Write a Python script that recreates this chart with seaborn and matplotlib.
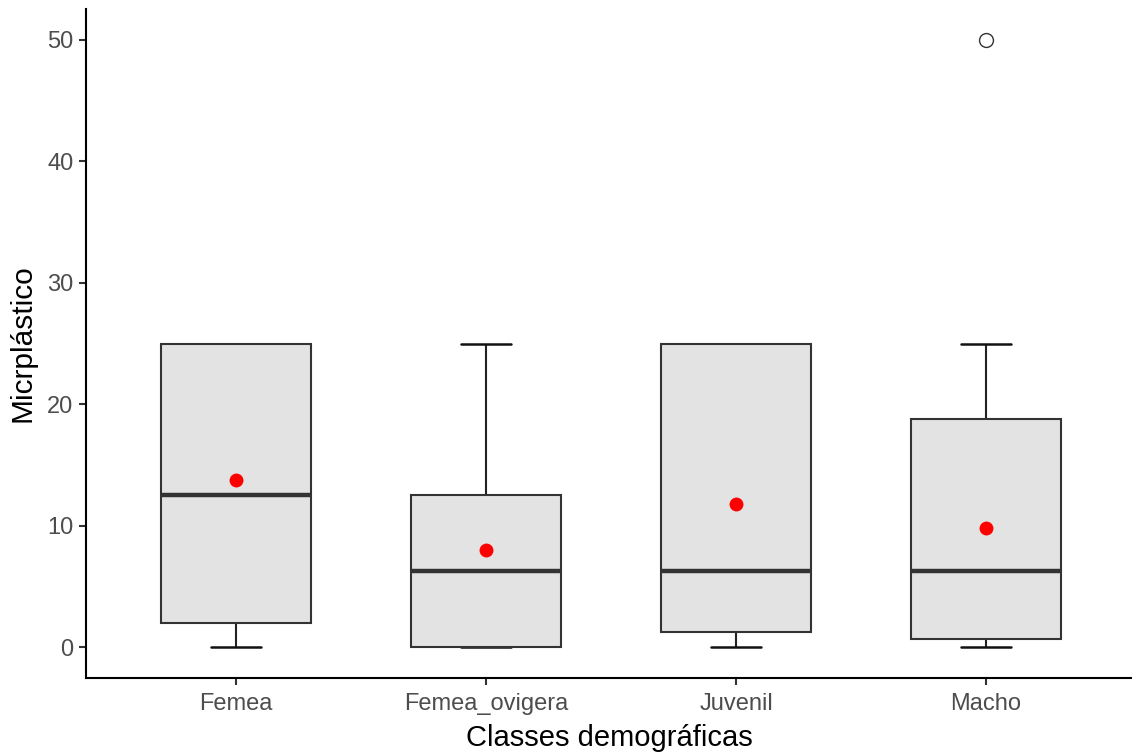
import numpy as np
import pandas as pd
import matplotlib
matplotlib.use("Agg")
import matplotlib.pyplot as plt
import seaborn as sns

# Microplastic counts per demographic class
categories = ["Femea", "Femea_ovigera", "Juvenil", "Macho"]
femea = [0, 0, 2, 12.5, 12.5, 22, 25, 25, 25]
femea_ovigera = [0, 0, 0, 3, 6.25, 10, 12.5, 15.25, 25]
juvenil = [0, 0.5, 1.3, 5, 6.25, 17.8, 25, 25, 25]
macho = [0, 0, 0, 0, 0.66, 1, 2, 3, 6.25, 6.25, 6.25, 8.55,
         18.75, 18.75, 20, 25, 50]
y_ticks = [0, 10, 20, 30, 40, 50]

groups = [femea, femea_ovigera, juvenil, macho]
df = pd.DataFrame({
    "classe": np.repeat(categories, [len(g) for g in groups]),
    "micro": np.concatenate(groups),
})
df["classe"] = pd.Categorical(df["classe"], categories=categories, ordered=True)

sns.set_theme(style="white")
plt.rcParams["font.family"] = ["Liberation Sans", "DejaVu Sans"]

W, H = 1132, 754
fig = plt.figure(figsize=(W / 100, H / 100), dpi=100)
ax = fig.add_axes([86 / W, 1 - 677.7 / H, (W - 86) / W, (677.7 - 9.3) / H])

sns.boxplot(
    data=df, x="classe", y="micro", order=categories, ax=ax,
    color="#E3E3E3", saturation=1, width=0.6, whis=1.5,
    linecolor="#333333", linewidth=1.5,
    medianprops={"linewidth": 3.2, "color": "#333333"},
    whiskerprops={"linewidth": 1.5, "color": "#222222", "zorder": 1},
    capprops={"linewidth": 1.8, "color": "#111111", "zorder": 1},
    flierprops={"marker": "o", "markerfacecolor": "white",
                "markeredgecolor": "#333333", "markersize": 10,
                "markeredgewidth": 1.0},
    capwidths=0.2,
)

sns.pointplot(
    data=df, x="classe", y="micro", order=categories, ax=ax,
    estimator="mean", errorbar=None, color="#FF0000",
    linestyle="none", marker="o", markersize=10, markeredgewidth=0,
)

ax.set_xlim(-0.6, -0.6 + (W - 86) / 250)
ax.set_ylim(-2.5, 52.5)
ax.set_yticks(y_ticks)

for side in ["top", "right"]:
    ax.spines[side].set_visible(False)
for side in ["left", "bottom"]:
    ax.spines[side].set_linewidth(1.5)
    ax.spines[side].set_color("black")

ax.tick_params(axis="both", which="major", length=5, width=1.5,
               color="#333333", labelsize=17, labelcolor="#4D4D4D",
               pad=4, left=True, bottom=True)
ax.tick_params(axis="x", pad=6)

ax.set_xlabel("Classes demográficas", fontsize=21, color="black", labelpad=6.5)
ax.set_ylabel("Micrplástico", fontsize=21.5, color="black", labelpad=8)

fig.savefig("out.png", dpi=100, facecolor="white")
